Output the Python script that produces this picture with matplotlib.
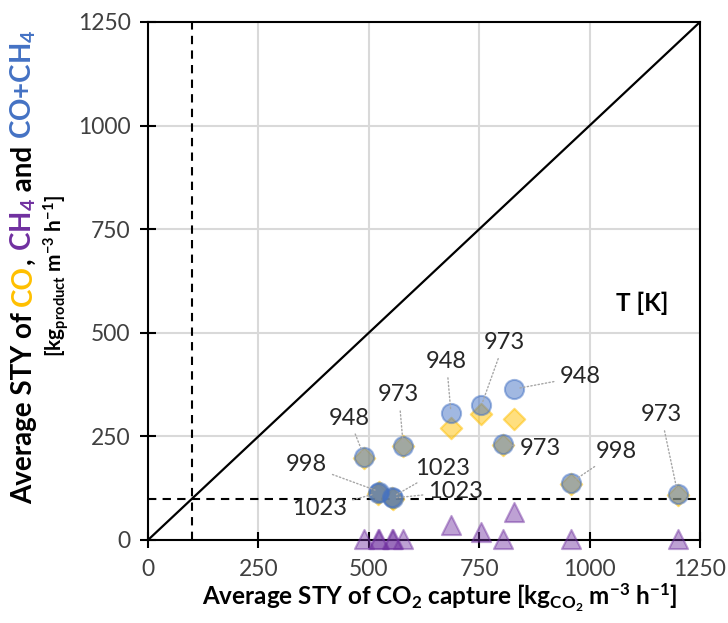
import matplotlib
matplotlib.use("Agg")
import matplotlib.pyplot as plt

plt.rcParams['font.family'] = ['Lato', 'DejaVu Sans']
plt.rcParams['mathtext.default'] = 'regular'
plt.rcParams['mathtext.fontset'] = 'custom'
plt.rcParams['mathtext.rm'] = 'Lato'
plt.rcParams['mathtext.it'] = 'Lato:italic'
plt.rcParams['mathtext.bf'] = 'Lato:bold'

# data
co2_capture = [490, 578, 686, 755, 828, 805, 957, 1200, 523, 520, 552, 554]
sty_co = [198, 226, 270, 303, 292, 229, 136, 108, 115, 111, 101, 99]
sty_ch4 = [2, 2, 36, 20, 68, 2, 2, 2, 2, 2, 2, 2]
sty_total = [200, 228, 307, 325, 364, 231, 138, 110, 117, 113, 103, 101]
temps = ['948', '973', '948', '973', '948', '973', '998', '973', '998', '1023', '1023', '1023']
label_pos = [(455, 294), (568, 350), (676, 430), (806, 476), (978, 394), (888, 221),
             (1061, 213), (1162, 302), (359, 181), (389, 76), (667, 173), (697, 117)]
ticks = [0, 250, 500, 750, 1000, 1250]

c_co = '#FFC000'
c_ch4 = '#7030A0'
c_tot = '#4472C4'

fig = plt.figure(figsize=(7.28, 6.23), dpi=100)
ax = fig.add_axes([148/728, 83/623, 552/728, 518/623])

ax.set_xlim(0, 1250)
ax.set_ylim(0, 1250)
ax.set_xticks(ticks)
ax.set_yticks(ticks)
ax.grid(True, color='#D9D9D9', lw=1.5)
ax.set_axisbelow(True)
for sp in ax.spines.values():
    sp.set_linewidth(1.5)
    sp.set_color('black')
ax.tick_params(direction='inout', length=11, width=1.5, labelsize=16.5, colors='black')
ax.tick_params(axis='x', pad=8)
ax.tick_params(axis='y', pad=7)
for lab in ax.get_xticklabels() + ax.get_yticklabels():
    lab.set_color('#404040')

# parity line and 100 thresholds
ax.plot([0, 1250], [0, 1250], color='black', lw=1.6, zorder=2)
ax.axvline(100, color='black', ls=(0, (4, 3)), lw=1.5, zorder=2)
ax.axhline(100, color='black', ls=(0, (4, 3)), lw=1.5, zorder=2)

ax.scatter(co2_capture, sty_ch4, marker='^', s=190, facecolor=c_ch4, edgecolor=c_ch4,
           alpha=0.45, lw=1.5, zorder=3, clip_on=False)
ax.scatter(co2_capture, sty_co, marker='D', s=120, facecolor=c_co, edgecolor=c_co,
           alpha=0.5, lw=1.5, zorder=4, clip_on=False)
ax.scatter(co2_capture, sty_total, marker='o', s=190, facecolor=c_tot, edgecolor=c_tot,
           alpha=0.5, lw=1.5, zorder=5, clip_on=False)

for xv, yv, t, pos in zip(co2_capture, sty_total, temps, label_pos):
    ax.annotate(t, xy=(xv, yv), xytext=pos, textcoords='data', ha='center', va='center',
                fontsize=17, color='#262626', zorder=6,
                arrowprops=dict(arrowstyle='-', color='#A6A6A6', ls=':', lw=1,
                                shrinkA=2, shrinkB=3))

ax.text(1118, 572, 'T [K]', fontsize=17.5, fontweight='bold', ha='center', va='center')

# x label
fig.text(440/728, 18/623,
         r'Average STY of CO$_\mathbf{2}$ capture [kg$_\mathbf{CO_2}$ m$^\mathbf{-3}$ h$^\mathbf{-1}$]',
         ha='center', va='baseline', fontsize=17.5, fontweight='bold')

# y label built from coloured pieces, laid out bottom to top
fig.canvas.draw()
renderer = fig.canvas.get_renderer()


def vertical_label(pieces, x_px, yc_px, size):
    objs = []
    for s, c in pieces:
        t = fig.text(0, 0, s, color=c, rotation=90, rotation_mode='anchor',
                     ha='left', va='baseline', fontsize=size, fontweight='bold')
        objs.append(t)
    lens = [t.get_window_extent(renderer).height for t in objs]
    y = (623 - yc_px) - sum(lens) / 2
    for t, L in zip(objs, lens):
        t.set_position((x_px / 728, y / 623))
        y += L


vertical_label([('Average STY of ', 'black'), ('CO', c_co), (', ', 'black'),
                (r'CH$_\mathbf{4}$', c_ch4), (' and ', 'black'), (r'CO+CH$_\mathbf{4}$', c_tot)],
               32, 267, 20)
vertical_label([(r'[kg$_\mathbf{product}$ m$^\mathbf{-3}$ h$^\mathbf{-1}$]', 'black')], 62, 276, 15)

fig.savefig('out.png', dpi=100)
